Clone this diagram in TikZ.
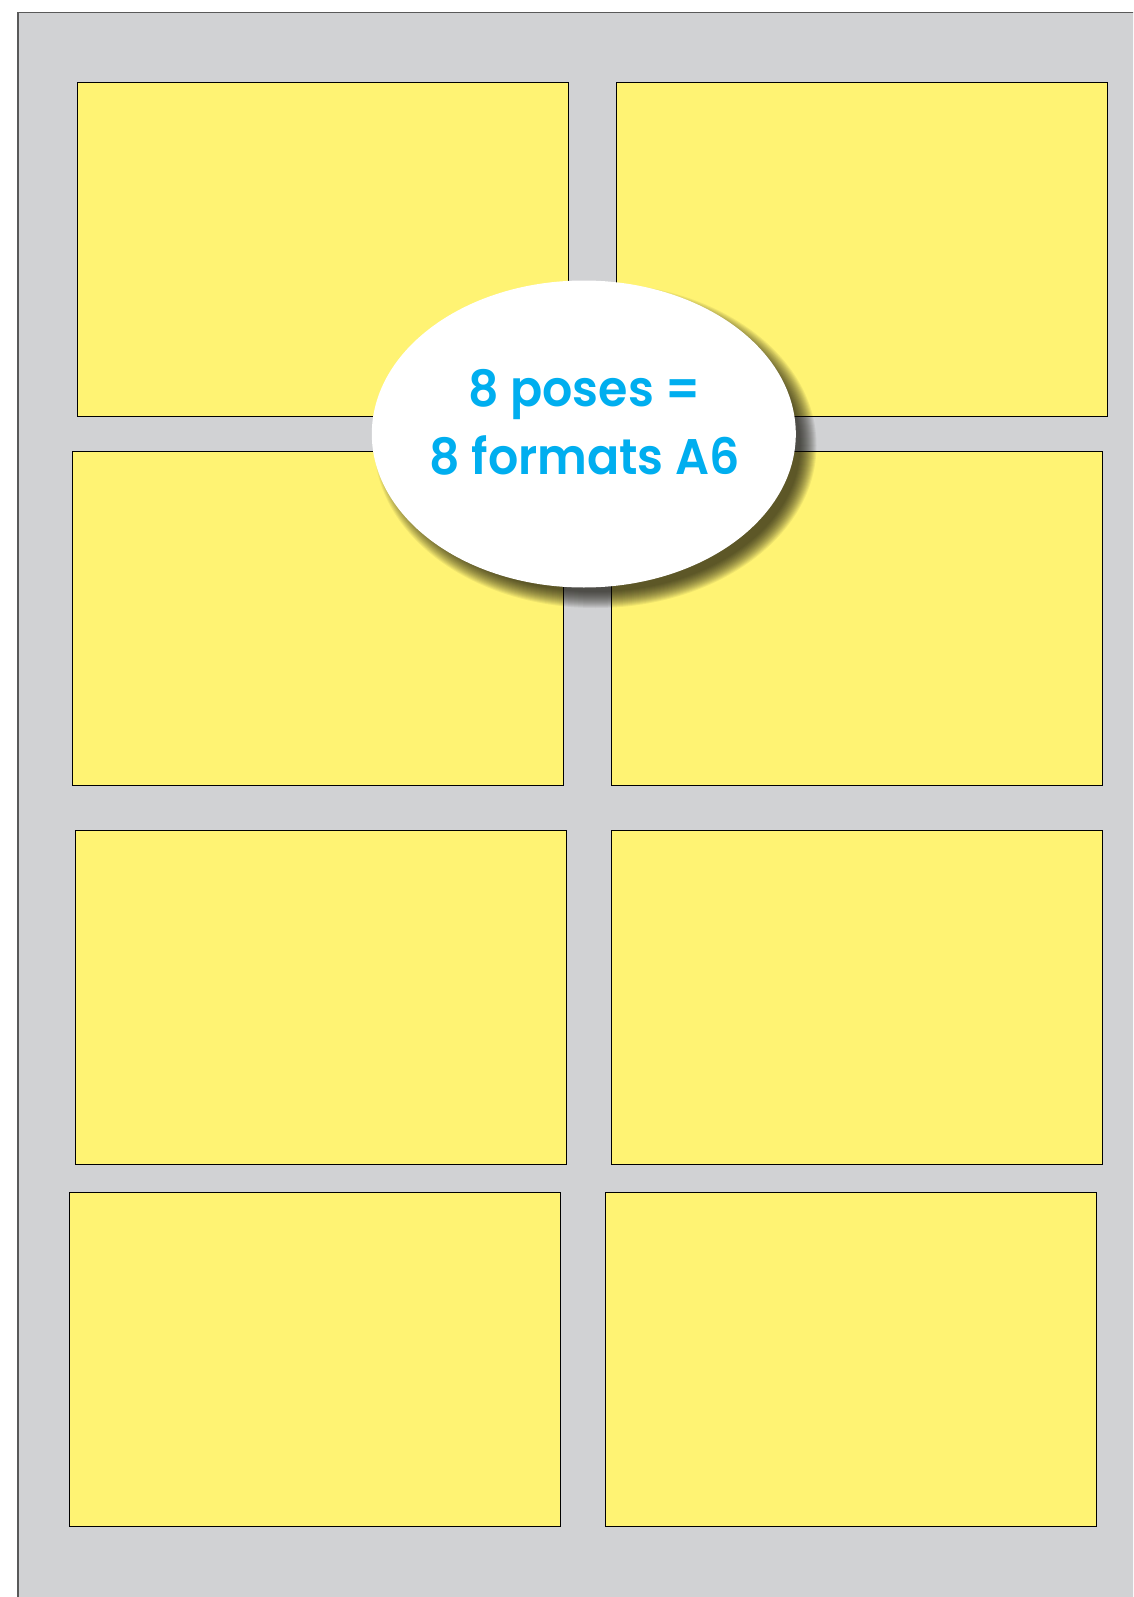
\documentclass[tikz,border=0pt]{standalone}
\usepackage{fontspec}
\newfontfamily\popfont{Poppins}[UprightFont=* SemiBold]
\usetikzlibrary{shapes.geometric}
\definecolor{pagegrey}{RGB}{209,210,212}
\definecolor{cardyellow}{RGB}{255,243,115}
\definecolor{textblue}{RGB}{0,174,239}
\definecolor{shadowcol}{RGB}{20,18,10}
\tikzset{
  card/.style={draw=black, line width=0.8pt, fill=cardyellow, anchor=north west,
    minimum width=491pt, minimum height=334pt, inner sep=0pt, outer sep=0pt},
  bubble/.style={ellipse, fill=white, minimum width=424pt, minimum height=307pt,
    inner sep=0pt},
  shadowlayer/.style={fill=shadowcol, fill opacity=0.062},
  label/.style={anchor=base, text=textblue, xscale=0.95, transform shape,
    font=\popfont\fontsize{50}{60}\selectfont, inner sep=0pt}
}
\begin{document}
\begin{tikzpicture}[x=1pt,y=-1pt]
\useasboundingbox (0,0) rectangle (1133,1597);
\clip (0,0) rectangle (1133,1597);
\draw[fill=pagegrey, draw=black!65, line width=1.2pt] (18,12.7) rectangle (1150,1620);
\node[card] (c1) at (77.5,82.6) {};
\node[card] (c2) at (616.2,82.6) {};
\node[card] (c3) at (72.3,451.4) {};
\node[card] (c4) at (611.2,451.4) {};
\node[card] (c5) at (75.4,830.8) {};
\node[card] (c6) at (611.2,830.8) {};
\node[card] (c7) at (69.3,1192.2) {};
\node[card] (c8) at (605.8,1192.2) {};
\foreach \d in {-7,...,9}
  \fill[shadowlayer] (595.5,445.5) ellipse [x radius={212+\d}, y radius={153.5+\d}];
\node[bubble] (oval) at (583.8,434) {};
\node[label] (t1) at (584.5,406.7) {8 poses =};
\node[label] (t2) at (584.7,474) {8 formats A6};
\end{tikzpicture}
\end{document}
